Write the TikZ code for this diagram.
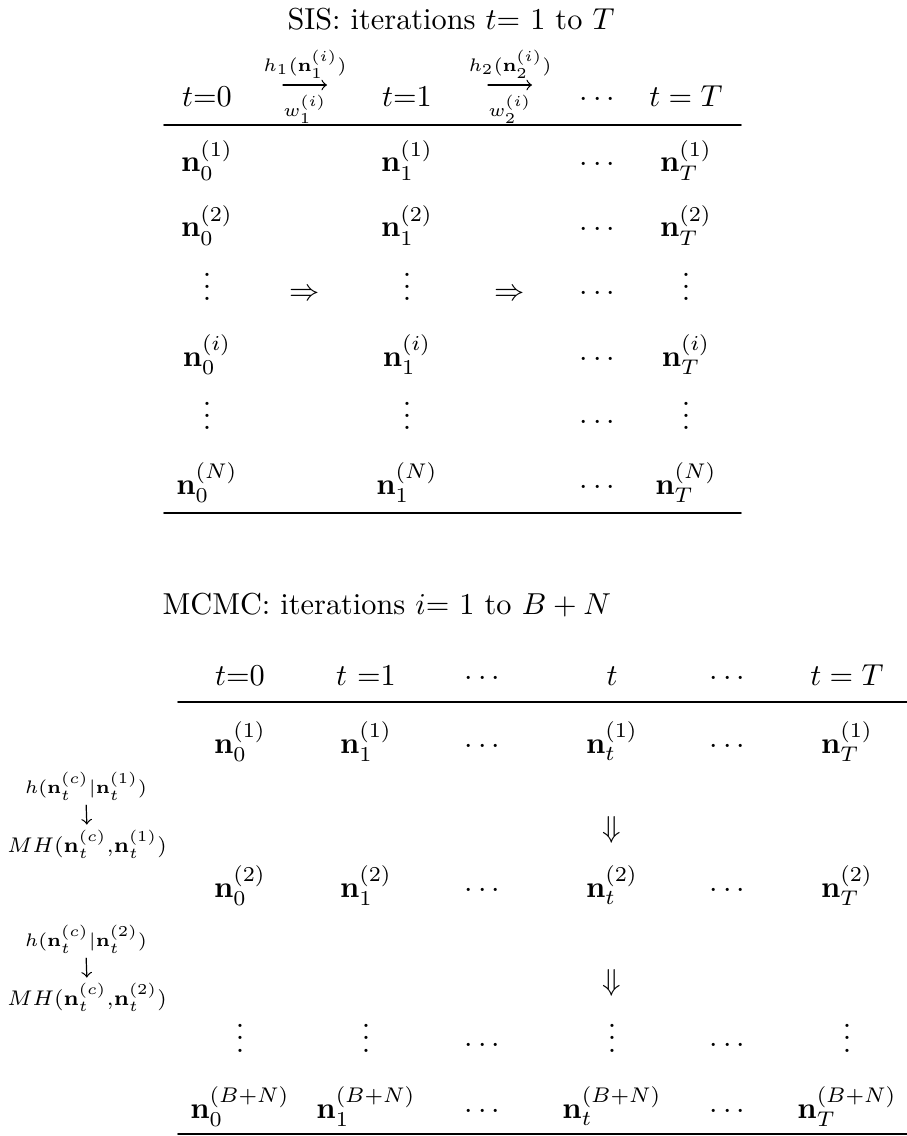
\documentclass[tikz,border=0pt]{standalone}
\usepackage{amsmath}
\begin{document}
\begin{tikzpicture}[x=0.33pt,y=-0.33pt,line cap=round,
    cell/.style={anchor=base,inner sep=0pt},
    lbl/.style={font=\fontsize{6}{7}\selectfont,inner sep=0pt},
    mhlbl/.style={font=\scriptsize,inner sep=0pt},
    rule/.style={line width=0.5pt},
    arr/.style={->,>=to,line width=0.4pt}]
  \useasboundingbox (0,0) rectangle (907,1136);
  % SIS table
  \node[cell] (sistitle) at (451,30) {SIS: iterations $t{=}$ 1 to $T$};
  \node[cell] (s0) at (207,107) {$t$=0};
  \node[cell] (s1) at (407,107) {$t$=1};
  \node[cell] (sdots) at (600,107) {$\cdots$};
  \node[cell] (sT) at (686,107) {$t=T$};
  \foreach \k/\x in {1/305,2/510}{
    \coordinate (a\k l) at (\x-22,85);
    \coordinate (a\k r) at (\x+22,85);
    \draw[arr] (a\k l) -- (a\k r);
    \node[lbl,above=2pt] (h\k) at (\x,85) {$h_{\k}(\mathbf{n}_{\k}^{(i)})$};
    \node[lbl,below=3pt] (w\k) at (\x,85) {$w_{\k}^{(i)}$};
  }
  \draw[rule] (164,125) -- (741,125);
  \foreach \r/\y in {1/172,2/237,i/366,N/494}{
    \node[cell] (s0\r) at (207,\y) {$\mathbf{n}_0^{(\r)}$};
    \node[cell] (s1\r) at (407,\y) {$\mathbf{n}_1^{(\r)}$};
    \node[cell] (sT\r) at (686,\y) {$\mathbf{n}_T^{(\r)}$};
  }
  \foreach \y in {301,430}{
    \node[cell] at (207,\y) {$\vdots$};
    \node[cell] at (407,\y) {$\vdots$};
    \node[cell] at (686,\y) {$\vdots$};
  }
  \foreach \y in {172,237,301,366,430,494}
    \node[cell] at (600,\y) {$\cdots$};
  \node[cell] (imp1) at (305,301) {$\Rightarrow$};
  \node[cell] (imp2) at (510,301) {$\Rightarrow$};
  \draw[rule] (164,513) -- (741,513);
  % MCMC table
  \node[cell,anchor=base west] (mctitle) at (162,614) {MCMC: iterations $i{=}$ 1 to $B+N$};
  \node[cell] (m0) at (240,685) {$t$=0};
  \node[cell] (m1) at (366,685) {$t$ =1};
  \node[cell] at (485,685) {$\cdots$};
  \node[cell] (mt) at (612,685) {$t$};
  \node[cell] at (730,685) {$\cdots$};
  \node[cell] (mT) at (847,685) {$t=T$};
  \draw[rule] (178,702) -- (907,702);
  \foreach \r/\y/\m in {(1)/753/1,(2)/897/2,(B+N)/1118/b}{
    \node[cell] (m0\m) at (240,\y) {$\mathbf{n}_0^{\r}$};
    \node[cell] (m1\m) at (366,\y) {$\mathbf{n}_1^{\r}$};
    \node[cell] at (485,\y) {$\cdots$};
    \node[cell] (mt\m) at (612,\y) {$\mathbf{n}_t^{\r}$};
    \node[cell] at (730,\y) {$\cdots$};
    \node[cell] (mT\m) at (847,\y) {$\mathbf{n}_T^{\r}$};
  }
  \foreach \x in {240,366,612,847}
    \node[cell] at (\x,1052) {$\vdots$};
  \node[cell] at (485,1052) {$\cdots$};
  \node[cell] at (730,1052) {$\cdots$};
  \foreach \k/\y in {1/830,2/983}{
    \node[inner sep=0pt] (dn\k) at (612,\y) {$\Downarrow$};
    \node[lbl] (hc\k) at (86,\y-44) {$h(\mathbf{n}_t^{(c)}|\mathbf{n}_t^{(\k)})$};
    \node[mhlbl] (mh\k) at (87,\y+14) {$MH(\mathbf{n}_t^{(c)}{,}\mathbf{n}_t^{(\k)})$};
    \draw[arr,shorten <=1.5pt,shorten >=1.5pt] (hc\k.south) -- (mh\k.north);
  }
  \draw[rule] (178,1134) -- (907,1134);
\end{tikzpicture}
\end{document}
